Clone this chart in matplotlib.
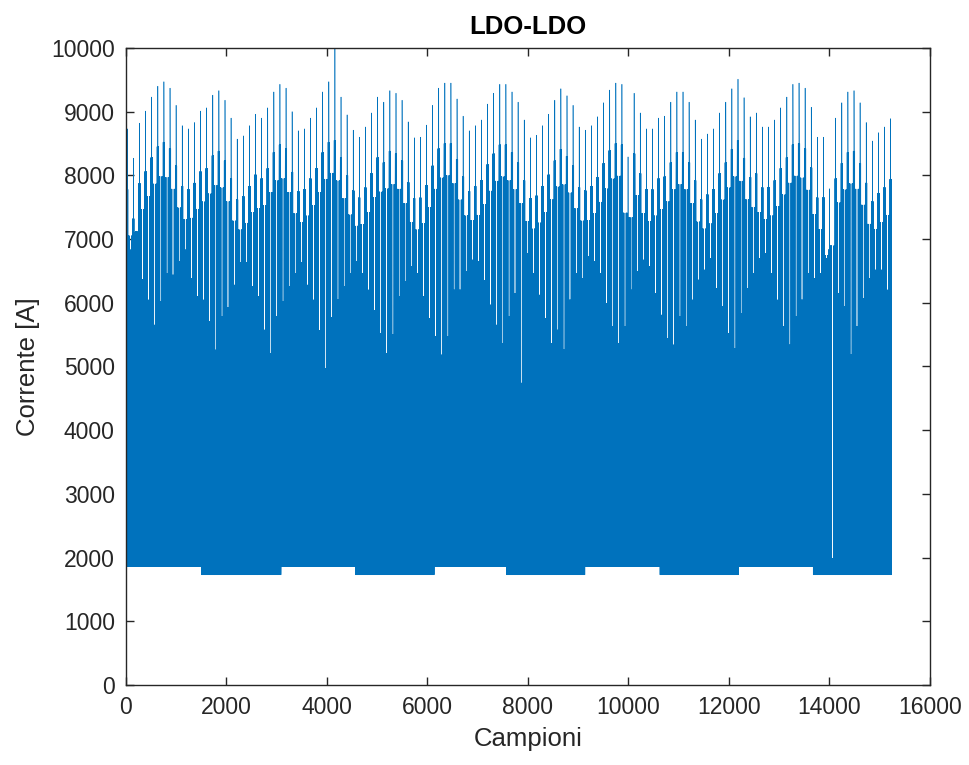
import numpy as np
import matplotlib.pyplot as plt

# tops of the tall spikes, left to right (one every ~121 samples)
spike_tops = [8730, 8270, 8820, 9010, 9230, 9400, 9470, 9370, 9100, 8780,
              8730, 8830, 9010, 9060, 9260, 9330, 9180, 8900, 8570, 8620,
              8780, 8960, 8900, 9060, 9310, 9430, 9370, 9000, 8700, 8730,
              8900, 9060, 9310, 9470, 10400, 9230, 8950, 8710, 8600, 8760,
              8980, 9230, 9150, 9330, 9290,
              9180, 8840, 8590, 8600, 8790, 9100, 9370, 9450, 9450, 9200,
              8930, 8700, 8780, 8870, 9120, 9290, 9430, 9430, 9310, 9150,
              8870, 8590, 8630, 8780, 8960, 9180, 9360, 9250, 9100, 8760,
              8710, 8780, 8920, 9140, 9340, 9450, 9430, 8290, 9290, 8980,
              8730, 8730, 8900,
              8930, 9150, 9310, 9310, 9150, 8870, 8570, 8650, 8730, 8980,
              9150, 9360, 9510, 9220, 8920, 8980, 8760, 8760, 8870, 9060,
              9230, 9430, 9450, 9370, 9070, 8600, 8600, 7790, 8900, 9140,
              9310, 9330, 9140, 8830, 8540, 8670, 8760, 8890]

# bottoms of the light gaps between consecutive spikes
gap_bottoms = [6830, 7117, 6368, 6044, 5651, 6018, 6463, 6436, 6646, 6830,
               6384, 6096, 6044, 5704, 5259, 5782, 5924, 6279, 6630, 6630,
               6253, 6096, 5573, 5207, 5782, 6018, 6253, 6463, 6630, 6279,
               6044, 5562, 4971, 5772, 6044, 6253, 6463, 6646, 6463, 6201,
               5876, 5521, 5207, 5495, 6096,
               6332, 6567, 6463, 6096, 5756, 5469, 5181, 5469, 6201, 6201,
               6489, 6672, 6646, 6348, 5966, 5651, 5364, 5782, 6149, 4740,
               6777, 6463, 6122, 5756, 5364, 5573, 5259, 6044, 6463, 6384,
               6724, 6646, 6463, 5992, 5625, 5364, 5625, 6201, 6489, 6672,
               6567, 6149,
               5808, 5442, 5338, 5782, 5625, 6044, 6358, 6515, 6698, 6227,
               5939, 5521, 5285, 5835, 6227, 6463, 6698, 6777, 6463, 6044,
               5625, 5338, 5782, 6044, 6463, 6384, 6463, 6698, 1990, 6149,
               5939, 5181, 5625, 6070, 6384, 6515, 6515, 6201]

# baseline steps
floor_edges = [0, 1506, 3085, 4570, 6135, 7575, 9134, 10627, 12185, 13678, 15238]
floor_levels = [1860, 1730, 1860, 1730, 1860, 1730, 1860, 1730, 1860, 1730]
fill_drop = 1450     # solid band between spikes ends this far below the spike tips
dark_drop = 950      # the dark foot of each spike ends this far below its tip

first_spike, last_spike = 26, 15218

n = floor_edges[-1]
samples = np.arange(n)
corrente = np.zeros(n)
for i in range(len(floor_levels)):
    corrente[floor_edges[i]:floor_edges[i + 1]] = floor_levels[i]

tops = np.minimum(spike_tops, 9500)
pos = np.linspace(first_spike, last_spike, len(spike_tops)).round().astype(int)
odd = samples % 2 == 1

# dense band: every other sample high, level following the spike envelope
band = np.full(n, tops[0] - fill_drop, dtype=float)
for k in range(len(pos) - 1):
    band[pos[k]:pos[k + 1]] = (tops[k] + tops[k + 1]) / 2 - fill_drop
band[pos[-1]:] = tops[-1] - fill_drop
corrente[odd] = band[odd]

mids = (pos[:-1] + pos[1:]) // 2
for m, g in zip(mids, gap_bottoms):
    idx = np.arange(m - 18, m + 19)
    idx = idx[idx % 2 == 1]
    corrente[idx] = g
for p, t in zip(pos, tops):
    idx = np.arange(max(p - 16, 0), min(p + 17, n))
    idx = idx[idx % 2 == 1]
    corrente[idx] = t - dark_drop
corrente[pos] = spike_tops

fig = plt.figure(figsize=(9.69, 7.65), dpi=100)
ax = fig.add_axes([0.130, 0.1046, 0.8297, 0.8327])
ax.plot(samples, corrente, color='#0072BD', lw=0.42)

ax.set_xlim(0, 16000)
ax.set_ylim(0, 10000)
ax.set_xticks(np.arange(0, 16001, 2000))
ax.set_yticks(np.arange(0, 10001, 1000))

ax.tick_params(direction='in', top=True, right=True, length=6, width=1,
               color='#262626', labelcolor='#262626', labelsize=16.5, pad=8)
for s in ax.spines.values():
    s.set_color('#262626')
    s.set_linewidth(1)

font = 'Liberation Sans'
for lab in ax.get_xticklabels() + ax.get_yticklabels():
    lab.set_fontfamily(font)
ax.set_xlabel('Campioni', fontsize=18.5, family=font, color='#262626', labelpad=6)
ax.set_ylabel('Corrente [A]', fontsize=18.5, family=font, color='#262626', labelpad=8)
ax.set_title('LDO-LDO', fontsize=18.5, family=font, fontweight='bold',
             color='black', pad=10)

fig.savefig('out.png', dpi=100)
